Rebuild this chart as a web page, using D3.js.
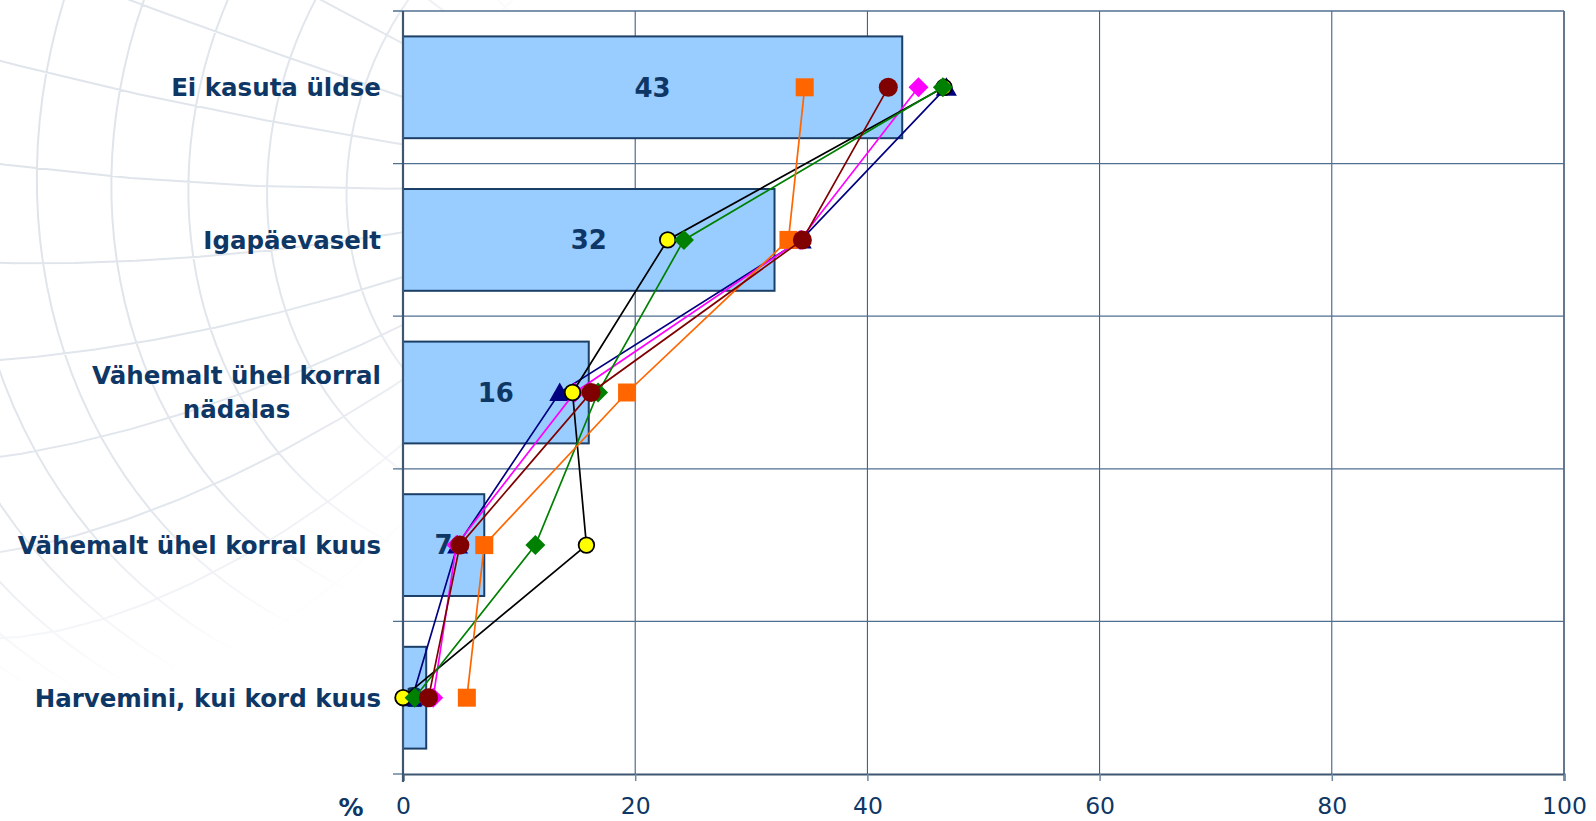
<!DOCTYPE html>
<html>
<head>
<meta charset="utf-8">
<script src="https://cdn.jsdelivr.net/npm/d3@7"></script>
<style>
  html, body { margin: 0; padding: 0; background: #ffffff; }
  svg { display: block; }
</style>
</head>
<body>
<svg id="chart" width="1596" height="821"></svg>
<script>
// Internet use frequency: overall share (bars) and six group profiles (lines)
const categories = [
  "Ei kasuta üldse",
  "Igapäevaselt",
  "Vähemalt ühel korral nädalas",
  "Vähemalt ühel korral kuus",
  "Harvemini, kui kord kuus"
];
const categoryLines = [
  ["Ei kasuta üldse"],
  ["Igapäevaselt"],
  ["Vähemalt ühel korral", "nädalas"],
  ["Vähemalt ühel korral kuus"],
  ["Harvemini, kui kord kuus"]
];
const totals = [43, 32, 16, 7, 2];

const seriesNavy    = [46.8, 34.3, 13.5, 4.7, 0.8];
const seriesMagenta = [44.4, 34.2, 14.8, 4.6, 2.6];
const seriesYellow  = [46.6, 22.8, 14.6, 15.8, 0.0];
const seriesGreen   = [46.5, 24.2, 16.8, 11.4, 1.0];
const seriesOrange  = [34.6, 33.2, 19.3, 7.0, 5.5];
const seriesDarkred = [41.8, 34.4, 16.2, 4.9, 2.2];

const xTicks = [0, 20, 40, 60, 80, 100];
const axisUnit = "%";

const series = [
  { values: seriesNavy,    line: "#000080", fill: "#000080", stroke: "none",    shape: "triangle" },
  { values: seriesMagenta, line: "#ff00ff", fill: "#ff00ff", stroke: "none",    shape: "diamond" },
  { values: seriesYellow,  line: "#000000", fill: "#ffff00", stroke: "#000000", shape: "circleSmall" },
  { values: seriesGreen,   line: "#008000", fill: "#008000", stroke: "none",    shape: "diamond" },
  { values: seriesOrange,  line: "#ff6600", fill: "#ff6600", stroke: "none",    shape: "square" },
  { values: seriesDarkred, line: "#800000", fill: "#800000", stroke: "none",    shape: "circle" }
];

const textColor = "#0e3766";
const gridColor = "#4f6f90";
const axisColor = "#3f5670";
const fontFamily = "DejaVu Sans, Verdana, sans-serif";

const svg = d3.select("#chart");
const plot = { left: 403, right: 1564, top: 11, bottom: 774 };

// faint globe watermark behind the chart, fading out towards the lower right
const defs = svg.append("defs");
const grad = defs.append("radialGradient")
  .attr("id", "fade")
  .attr("gradientUnits", "userSpaceOnUse")
  .attr("cx", 40).attr("cy", 170).attr("r", 520);
grad.append("stop").attr("offset", "0%").attr("stop-color", "#fff").attr("stop-opacity", 1);
grad.append("stop").attr("offset", "70%").attr("stop-color", "#fff").attr("stop-opacity", 0.9);
grad.append("stop").attr("offset", "100%").attr("stop-color", "#fff").attr("stop-opacity", 0);
defs.append("mask").attr("id", "fadeMask")
  .append("rect").attr("width", 1596).attr("height", 821).attr("fill", "url(#fade)");

const proj = d3.geoOrthographic()
  .scale(760)
  .translate([340, 10])
  .rotate([0, -62, -118])
  .clipAngle(90);
const geoPath = d3.geoPath(proj);
svg.append("g")
  .attr("mask", "url(#fadeMask)")
  .append("path")
  .datum(d3.geoGraticule().step([10, 6]).extentMajor([[-180, -80], [180, 89]]).extentMinor([[-180, -80], [180, 89]])())
  .attr("d", geoPath)
  .attr("fill", "none")
  .attr("stroke", "#dfe4eb")
  .attr("stroke-width", 2);

const x = d3.scaleLinear().domain([0, 100]).range([plot.left, plot.right]);
const y = d3.scaleBand().domain(categories).range([plot.top, plot.bottom]).padding(0);
const barH = y.bandwidth() * 0.667;
const cy = c => y(c) + y.bandwidth() / 2;

// plot area
svg.append("rect")
  .attr("x", plot.left).attr("y", plot.top)
  .attr("width", plot.right - plot.left).attr("height", plot.bottom - plot.top)
  .attr("fill", "#ffffff");

// vertical gridlines
svg.append("g").selectAll("line")
  .data(xTicks.filter(t => t > 0))
  .join("line")
  .attr("x1", d => x(d)).attr("x2", d => x(d))
  .attr("y1", plot.top).attr("y2", plot.bottom)
  .attr("stroke", d => d === 100 ? axisColor : "#2f4f78")
  .attr("stroke-width", d => d === 100 ? 1.6 : 1);

// horizontal gridlines at category boundaries, with outward ticks
const boundaries = categories.map(c => y(c)).concat([plot.bottom]);
svg.append("g").selectAll("line")
  .data(boundaries)
  .join("line")
  .attr("x1", plot.left - 10)
  .attr("x2", (d, i) => i === boundaries.length - 1 ? plot.left : plot.right)
  .attr("y1", d => d).attr("y2", d => d)
  .attr("stroke", gridColor)
  .attr("stroke-width", 1.3);

// bars
svg.append("g").selectAll("rect")
  .data(categories)
  .join("rect")
  .attr("x", x(0))
  .attr("y", c => cy(c) - barH / 2)
  .attr("width", (c, i) => x(totals[i]) - x(0))
  .attr("height", barH)
  .attr("fill", "#99ccff")
  .attr("stroke", "#1b3f66")
  .attr("stroke-width", 2);

// bar value labels
svg.append("g").selectAll("text")
  .data(categories)
  .join("text")
  .attr("x", (c, i) => (x(0) + x(totals[i])) / 2)
  .attr("y", c => cy(c))
  .attr("dy", "0.36em")
  .attr("text-anchor", "middle")
  .attr("font-family", fontFamily)
  .attr("font-weight", "bold")
  .attr("font-size", 26)
  .attr("fill", textColor)
  .text((c, i) => totals[i]);

// x axis
const xAxis = svg.append("g")
  .attr("transform", `translate(0,${plot.bottom})`)
  .call(d3.axisBottom(x).tickValues(xTicks).tickSize(7).tickPadding(16).tickFormat(d3.format("d")));
xAxis.select(".domain").attr("stroke", axisColor).attr("stroke-width", 2.2);
xAxis.selectAll(".tick line").attr("stroke", "#6f88a3").attr("stroke-width", 1.5);
xAxis.selectAll(".tick text")
  .attr("font-family", fontFamily)
  .attr("font-size", 23.5)
  .attr("fill", textColor);

// left axis line
svg.append("line")
  .attr("x1", plot.left).attr("x2", plot.left)
  .attr("y1", plot.top).attr("y2", plot.bottom + 8)
  .attr("stroke", axisColor).attr("stroke-width", 2.2);

// axis unit
svg.append("text")
  .attr("x", 351).attr("y", 807)
  .attr("dy", "0.36em")
  .attr("text-anchor", "middle")
  .attr("font-family", fontFamily)
  .attr("font-weight", "bold")
  .attr("font-size", 25)
  .attr("fill", textColor)
  .text(axisUnit);

// category labels
const labelG = svg.append("g");
categories.forEach((c, i) => {
  const lines = categoryLines[i];
  const lh = 34;
  const t = labelG.append("text")
    .attr("font-family", fontFamily)
    .attr("font-weight", "bold")
    .attr("font-size", 24.5)
    .attr("fill", textColor)
    .attr("text-anchor", lines.length > 1 ? "middle" : "end");
  if (lines.length === 1) {
    t.attr("x", 381).attr("y", cy(c)).attr("dy", "0.36em").text(lines[0]);
  } else {
    const tmp = labelG.append("text")
      .attr("font-family", fontFamily)
      .attr("font-weight", "bold").attr("font-size", 24.5)
      .text(lines[0]);
    const w = tmp.node().getComputedTextLength();
    tmp.remove();
    const cx = 381 - w / 2;
    lines.forEach((ln, k) => {
      t.append("tspan")
        .attr("x", cx)
        .attr("y", cy(c) + (k - (lines.length - 1) / 2) * lh)
        .attr("dy", "0.36em")
        .text(ln);
    });
  }
});

// marker shapes
function markerPath(shape) {
  switch (shape) {
    case "square": return "M-9,-9H9V9H-9Z";
    case "diamond": return "M0,-10L10,0L0,10L-10,0Z";
    case "triangle": return "M0,-10L10.5,8.5L-10.5,8.5Z";
    case "circle": return d3.symbol(d3.symbolCircle, Math.PI * 9.5 * 9.5)();
    case "circleSmall": return d3.symbol(d3.symbolCircle, Math.PI * 7.8 * 7.8)();
  }
}

const lineGen = d3.line()
  .x(d => x(d.v))
  .y(d => cy(d.c));

const seriesG = svg.append("g");
series.forEach(s => {
  const pts = categories.map((c, i) => ({ c, v: s.values[i] }));
  const g = seriesG.append("g");
  g.append("path")
    .datum(pts)
    .attr("d", lineGen)
    .attr("fill", "none")
    .attr("stroke", s.line)
    .attr("stroke-width", 1.7);
  g.selectAll("path.m")
    .data(pts)
    .join("path")
    .attr("class", "m")
    .attr("transform", d => `translate(${x(d.v)},${cy(d.c)})`)
    .attr("d", markerPath(s.shape))
    .attr("fill", s.fill)
    .attr("stroke", s.stroke)
    .attr("stroke-width", s.stroke === "none" ? 0 : 1.8);
});
</script>
</body>
</html>
